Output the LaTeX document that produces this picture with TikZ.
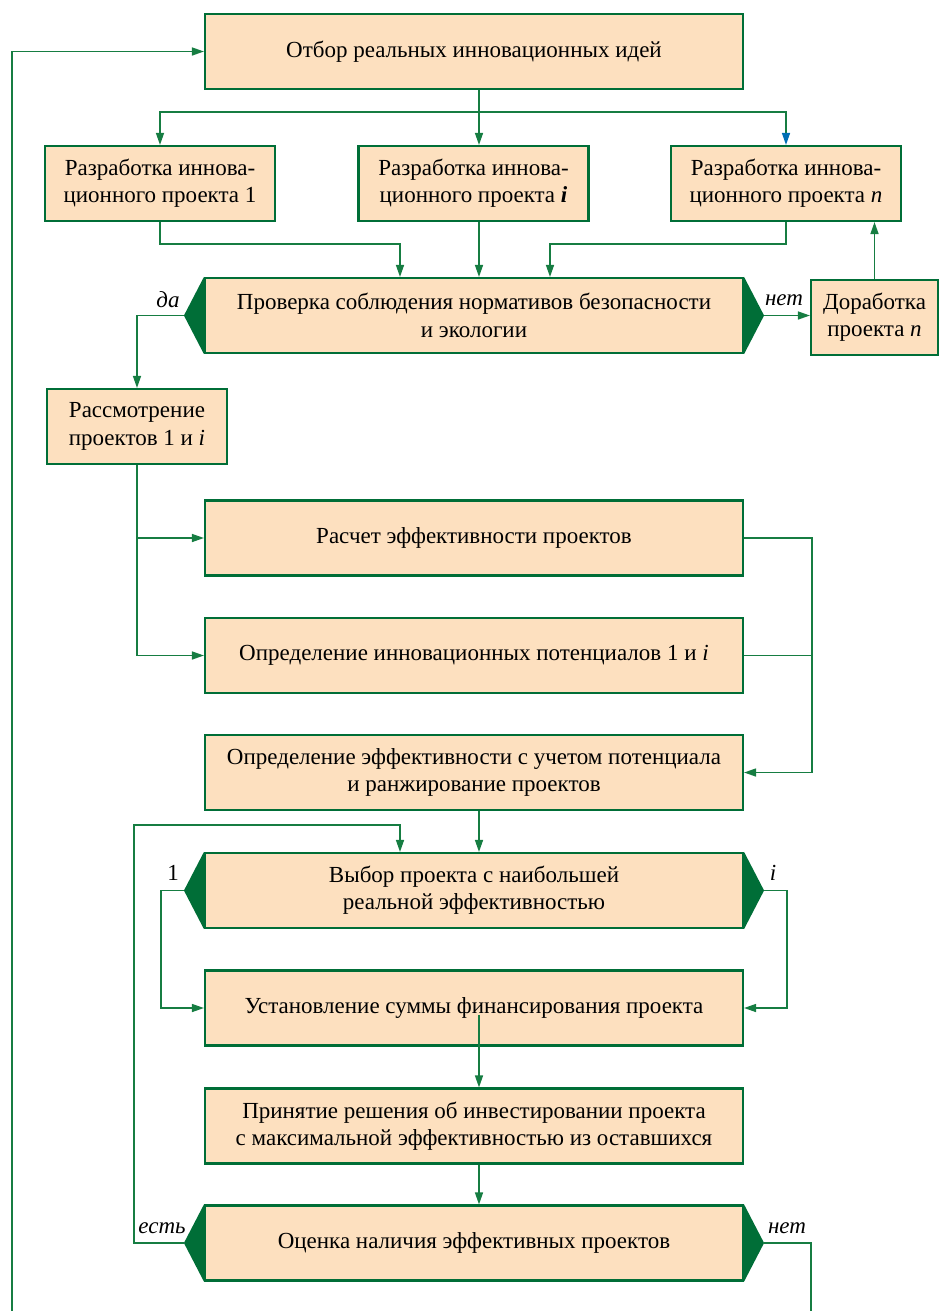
\documentclass[tikz,border=0pt]{standalone}
\usepackage{fontspec}
\setmainfont{Liberation Serif}
\usetikzlibrary{arrows.meta, positioning}

\definecolor{boxfill}{RGB}{253,224,191}
\definecolor{edgegreen}{RGB}{0,110,55}
\definecolor{linegreen}{RGB}{22,125,66}
\definecolor{tipblue}{RGB}{0,110,180}

\newcommand\bodyfont{\fontsize{17.25}{20.5}\selectfont}

\tikzset{
	>={Triangle[length=9pt,width=6pt]}, % filled triangle heads
	box/.style={draw=edgegreen, line width=1.6pt, fill=boxfill, align=center, inner sep=0pt, font=\bodyfont},
	widebox/.style={box, minimum width=403.5pt, minimum height=56.25pt},
	projbox/.style={box, minimum width=172.5pt, minimum height=56.25pt},
	link/.style={draw=linegreen, line width=1.1pt},
	tag/.style={font=\bodyfont, inner sep=0pt},
}

% dark green wedges on both short sides of a check box
\newcommand\sideflags[1]{%
	\fill[edgegreen] (#1.north west) -- ([xshift=-15pt]#1.west) coordinate (#1-l) -- (#1.south west) -- cycle;
	\fill[edgegreen] (#1.north east) -- ([xshift=15pt]#1.east) coordinate (#1-r) -- (#1.south east) -- cycle;}

\begin{document}
\begin{tikzpicture}[x=0.75pt,y=-0.75pt]
	\useasboundingbox (0,0) rectangle (940,1311);

	% boxes
	\node[widebox] (sel) at (474,51.5) {Отбор реальных инновационных идей};
	\node[projbox] (dev1) at (160,183.5) {Разработка иннова-\\ционного проекта 1};
	\node[projbox] (devi) at (473.5,183.5) {Разработка иннова-\\ционного проекта \textbf{\textit{i}}};
	\node[projbox] (devn) at (786,183.5) {Разработка иннова-\\ционного проекта \textit{n}};
	\node[widebox] (chk) at (474,315.5) {Проверка соблюдения нормативов безопасности\\и экологии};
	\node[box, minimum width=95.25pt, minimum height=56.25pt] (fix) at (874.5,317.5) {Доработка\\проекта \textit{n}};
	\node[box, minimum width=135pt, minimum height=56.25pt] (rev) at (137,426.5) {Рассмотрение\\проектов 1 и \textit{i}};
	\node[widebox] (calc) at (474,538) {Расчет эффективности проектов};
	\node[widebox] (pot) at (474,655.5) {Определение инновационных потенциалов 1 и \textit{i}};
	\node[widebox] (rank) at (474,772.5) {Определение эффективности с учетом потенциала\\и ранжирование проектов};
	\node[widebox] (pick) at (474,890.5) {Выбор проекта с наибольшей\\реальной эффективностью};
	\node[widebox] (fund) at (474,1008) {Установление суммы финансирования проекта};
	\node[widebox] (inv) at (474,1126) {Принятие решения об инвестировании проекта\\с максимальной эффективностью из оставшихся};
	\node[widebox] (eval) at (474,1243) {Оценка наличия эффективных проектов};

	\sideflags{chk}
	\sideflags{pick}
	\sideflags{eval}

	% free ends and junctions
	\coordinate (back) at (12,1311);
	\coordinate (out) at (811,1311);
	\coordinate (split) at (479,112);
	\coordinate (join) at (812,772.5);
	\coordinate (fundmid) at (479,1015);

	% top fan-out
	\draw[link] ([xshift=3.75pt]sel.south) -- (split);
	\draw[link,->] (split) -| (dev1.north);
	\draw[link,->] (split) -- (split |- devi.north);
	\draw[link,-{Triangle[length=9pt,width=6pt,color=tipblue]}] (split) -| (devn.north);

	% into the check
	\draw[link,->] (dev1.south) -- ++(0,22) -| ([xshift=-55.5pt]chk.north);
	\draw[link,->] (split |- devi.south) -- (split |- chk.north);
	\draw[link,->] (devn.south) -- ++(0,22) -| ([xshift=57pt]chk.north);

	\draw[link,->] (chk-r) -- (chk-r -| fix.west);
	\draw[link,->] (fix.north) -- (fix.north |- devn.south);
	\draw[link,->] (chk-l) -| (rev.north);
	\node[tag] at (168,300) {\textit{да}};
	\node[tag] at (784,300) {\textit{нет}};

	% evaluation branch
	\draw[link,->] (rev.south) |- (calc.west);
	\draw[link,->] (rev.south) |- (pot.west);
	\draw[link] (calc.east) -| (join);
	\draw[link] (pot.east) -| (join);
	\draw[link,->] (join) -- (rank.east);
	\draw[link,->] ([xshift=3.75pt]rank.south) -- ([xshift=3.75pt]pick.north);

	% choice of project
	\draw[link,->] (pick-l) -- ++(-23,0) |- (fund.west);
	\draw[link,->] (pick-r) -- ++(23,0) |- (fund.east);
	\node[tag] at (173,873) {1};
	\node[tag] at (773,873) {\textit{i}};

	\draw[link,->] (fundmid) -- (fundmid |- inv.north);
	\draw[link,->] ([xshift=3.75pt]inv.south) -- ([xshift=3.75pt]eval.north);

	% loops back
	\draw[link,->] (eval-l) -- ++(-50,0) |- ([xshift=-55.5pt,yshift=20.25pt]pick.north) -- ([xshift=-55.5pt]pick.north);
	\draw[link] (eval-r) -| (out);
	\draw[link,->] (back) |- (sel.west);
	\node[tag] at (162,1228) {\textit{есть}};
	\node[tag] at (787,1228) {\textit{нет}};
\end{tikzpicture}
\end{document}
